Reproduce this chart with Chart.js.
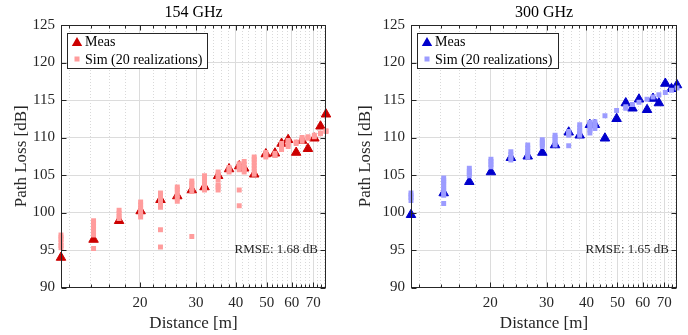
<!DOCTYPE html>
<html>
<head>
<meta charset="utf-8">
<script src="https://cdn.jsdelivr.net/npm/chart.js@4"></script>
<style>
  html, body { margin: 0; padding: 0; background: #fff; }
  #wrap { position: relative; width: 688px; height: 335px; }
  .panel { position: absolute; top: 0; width: 344px; height: 335px; }
</style>
</head>
<body>
<div id="wrap">
  <div class="panel" style="left:0"><canvas id="c154"></canvas></div>
  <div class="panel" style="left:344px"><canvas id="c300"></canvas></div>
</div>
<script>
// distances [m], shared by both frequencies
const distances = [11.3, 14.3, 17.2, 20.1, 23.2, 26.2, 29.1, 31.9, 35.2, 38.1, 41.0, 42.5,
  45.7, 49.7, 53.1, 55.7, 58.4, 61.9, 64.6, 67.4, 70.6, 73.8, 76.8];

const meas154 = [94.0, 96.4, 98.9, 100.2, 101.7, 102.2, 103.0, 103.4, 104.9, 105.8, 106.2, 105.9,
  105.1, 107.8, 107.9, 109.2, 109.7, 108.0, 109.6, 108.5, 109.9, 111.5, 113.1];
const meas300 = [99.7, 102.6, 104.1, 105.4, 107.3, 107.5, 108.0, 109.0, 110.7, 110.3, 111.7, 111.7,
  109.9, 112.5, 114.6, 113.9, 115.1, 113.7, 115.2, 114.6, 117.2, 116.5, 117.0];

// simulated realizations, one list per distance (overlapping values merge into bars)
const sim154 = [
  [95.3, 95.6, 96.0, 96.4, 96.7, 97.0],
  [95.2, 97.0, 97.4, 97.8, 98.2, 98.6, 98.9],
  [99.2, 99.5, 99.9, 100.3],
  [99.4, 99.8, 100.2, 100.6, 101.0, 101.4],
  [95.4, 97.7, 100.7, 101.1, 101.5, 101.9, 102.3, 102.6],
  [101.5, 101.9, 102.3, 102.7, 103.1, 103.4],
  [96.8, 102.8, 103.2, 103.6, 103.9, 104.2],
  [103.0, 103.4, 103.8, 104.2, 104.5, 104.9],
  [103.0, 103.4, 103.7, 104.4, 104.8, 105.1, 105.4],
  [105.4, 105.7, 106.0],
  [100.9, 103.0, 105.7, 106.0, 106.3, 106.5],
  [105.4, 105.7, 106.0, 106.4, 106.8],
  [105.1, 105.5, 105.9, 106.3, 106.7, 107.1, 107.4],
  [107.4, 107.7, 108.0],
  [107.6, 107.9],
  [108.4, 108.6, 108.9, 109.2],
  [108.8, 109.1, 109.4, 109.6],
  [109.2, 109.4],
  [109.5, 109.8, 110.0],
  [109.9, 110.1],
  [110.1, 110.3],
  [110.5, 110.6],
  [110.8, 110.9]
];
const sim300 = [
  [101.6, 102.0, 102.3, 102.6],
  [101.2, 102.3, 102.6, 103.0, 103.3, 103.7, 104.0, 104.3, 104.6],
  [104.9, 105.2, 105.5, 105.9],
  [106.1, 106.4, 106.8, 107.1],
  [107.0, 107.3, 107.7, 108.1],
  [107.4, 107.8, 108.2, 108.6, 109.0],
  [108.8, 109.1, 109.4, 109.7],
  [109.0, 109.3, 109.7, 110.0, 110.3],
  [108.9, 110.3, 110.6, 110.8],
  [110.3, 110.6, 110.9, 111.3, 111.7],
  [110.6, 111.0, 111.4, 111.8, 112.0],
  [111.2, 111.5, 111.8, 112.1],
  [112.9],
  [113.6],
  [113.9, 114.1],
  [114.4],
  [114.7],
  [115.1],
  [115.4],
  [115.7],
  [116.0],
  [116.3],
  [116.6]
];

const yTicks = [90, 95, 100, 105, 110, 115, 120, 125];
const xMajorTicks = [20, 30, 40, 50, 60, 70];
const xMinorTicks = [12, 14, 16, 18, 22, 24, 26, 28, 32, 34, 36, 38, 42, 44, 46, 48,
  52, 54, 56, 58, 62, 64, 66, 68, 72, 74, 76];
const xRange = [11.3, 76.8];
const yRange = [90, 125];

const titles = ['154 GHz', '300 GHz'];
const rmseLabels = ['RMSE: 1.68 dB', 'RMSE: 1.65 dB'];
const legendLabels = ['Meas', 'Sim (20 realizations)'];

const FONT = '"Liberation Serif", "Times New Roman", serif';
const TXT = '#262626';
Chart.defaults.font.family = FONT;
Chart.defaults.color = TXT;

const allXTicks = [...xMajorTicks, ...xMinorTicks].sort((a, b) => a - b);
const isMajor = v => xMajorTicks.includes(v);

function triangle(ctx, x, y, r) {
  ctx.beginPath();
  ctx.moveTo(x, y - r);
  ctx.lineTo(x + 0.866 * r, y + 0.5 * r);
  ctx.lineTo(x - 0.866 * r, y + 0.5 * r);
  ctx.closePath();
}

// box, inward ticks, title, legend and RMSE note
const overlay = {
  id: 'overlay',
  afterDraw(chart, args, o) {
    const { ctx, chartArea: a, scales: { x, y } } = chart;
    const L = Math.round(a.left) + 0.5, R = Math.round(a.right) - 0.5;
    const T = Math.round(a.top) + 0.5, B = Math.round(a.bottom) - 0.5;
    ctx.save();
    ctx.strokeStyle = TXT;
    ctx.lineWidth = 1;
    ctx.beginPath();
    x.ticks.forEach(t => {
      const px = Math.round(x.getPixelForValue(t.value)) + 0.5;
      const len = isMajor(t.value) ? 5 : 3;
      ctx.moveTo(px, B); ctx.lineTo(px, B - len);
      ctx.moveTo(px, T); ctx.lineTo(px, T + len);
    });
    y.ticks.forEach(t => {
      const py = Math.round(y.getPixelForValue(t.value)) + 0.5;
      ctx.moveTo(L, py); ctx.lineTo(L + 5, py);
      ctx.moveTo(R, py); ctx.lineTo(R - 5, py);
    });
    ctx.stroke();
    ctx.strokeRect(L, T, R - L, B - T);

    ctx.fillStyle = '#000';
    ctx.textBaseline = 'middle';
    ctx.textAlign = 'center';
    ctx.font = '16px ' + FONT;
    ctx.fillText(o.title, (a.left + a.right) / 2, 13);

    ctx.fillStyle = TXT;
    ctx.textAlign = 'right';
    ctx.font = '13px ' + FONT;
    ctx.fillText(o.rmse, a.right - 8, a.top + 225);

    // legend
    const lx = Math.round(a.left + 6) + 0.5, ly = Math.round(a.top + 8) + 0.5;
    ctx.fillStyle = '#fff';
    ctx.fillRect(lx, ly, o.legendW, 35);
    ctx.strokeStyle = TXT;
    ctx.strokeRect(lx, ly, o.legendW, 35);
    ctx.fillStyle = o.meas;
    triangle(ctx, a.left + 16, a.top + 18, 6);
    ctx.fill();
    ctx.fillStyle = o.sim;
    ctx.fillRect(a.left + 13.5, a.top + 31.5, 5, 5);
    ctx.fillStyle = '#000';
    ctx.textAlign = 'left';
    ctx.font = '14px ' + FONT;
    ctx.fillText(legendLabels[0], a.left + 24, a.top + 17);
    ctx.fillText(legendLabels[1], a.left + 24, a.top + 35);
    ctx.restore();
  }
};

function makeChart(id, meas, sim, measColor, simColor, title, rmse, yWidth, padRight, legendW) {
  const simPts = distances.flatMap((d, i) => sim[i].map(v => ({ x: d, y: v })));
  const measPts = distances.map((d, i) => ({ x: d, y: meas[i] }));
  return new Chart(document.getElementById(id), {
    type: 'scatter',
    data: {
      datasets: [
        {
          label: legendLabels[1], data: simPts, order: 0, clip: false,
          pointStyle: 'rect', pointRadius: 3.5, borderWidth: 0,
          backgroundColor: simColor, borderColor: simColor
        },
        {
          label: legendLabels[0], data: measPts, order: 1, clip: false,
          pointStyle: 'triangle', pointRadius: 5.5, borderWidth: 1,
          backgroundColor: measColor, borderColor: measColor
        }
      ]
    },
    options: {
      responsive: true,
      maintainAspectRatio: false,
      animation: false,
      events: [],
      layout: { padding: { top: 25, right: padRight, left: 0, bottom: 0 } },
      plugins: {
        legend: { display: false },
        tooltip: { enabled: false },
        overlay: { title, rmse, meas: measColor, sim: simColor, legendW }
      },
      scales: {
        x: {
          type: 'logarithmic',
          min: xRange[0], max: xRange[1],
          afterBuildTicks: s => { s.ticks = allXTicks.map(v => ({ value: v })); },
          afterFit: s => { s.height = 47.5; },
          ticks: {
            autoSkip: false, maxRotation: 0, minRotation: 0, padding: 7,
            font: { size: 15 }, color: TXT,
            callback: v => isMajor(v) ? String(v) : ''
          },
          grid: {
            drawTicks: false,
            color: c => (c.tick && isMajor(c.tick.value)) ? '#dcdcdc' : 'rgba(0,0,0,0.15)'
          },
          border: {
            display: false,
            dash: c => (c.tick && isMajor(c.tick.value)) ? [] : [1, 2]
          },
          title: {
            display: true, text: 'Distance [m]', color: TXT,
            font: { size: 17 }, padding: { top: 0, bottom: 1 }
          }
        },
        y: {
          min: yRange[0], max: yRange[1],
          afterBuildTicks: s => { s.ticks = yTicks.map(v => ({ value: v })); },
          afterFit: s => { s.width = yWidth; },
          ticks: { padding: 6, font: { size: 15 }, color: TXT },
          grid: { drawTicks: false, color: '#dcdcdc' },
          border: { display: false },
          title: {
            display: true, text: 'Path Loss [dB]', color: TXT,
            font: { size: 17 }, padding: { top: 11, bottom: 0 }
          }
        }
      }
    },
    plugins: [overlay]
  });
}

makeChart('c154', meas154, sim154, '#cc0000', '#ff9c9c', titles[0], rmseLabels[0], 61, 18, 140);
makeChart('c300', meas300, sim300, '#0000cc', '#9c9cff', titles[1], rmseLabels[1], 67, 11, 141);
</script>
</body>
</html>
